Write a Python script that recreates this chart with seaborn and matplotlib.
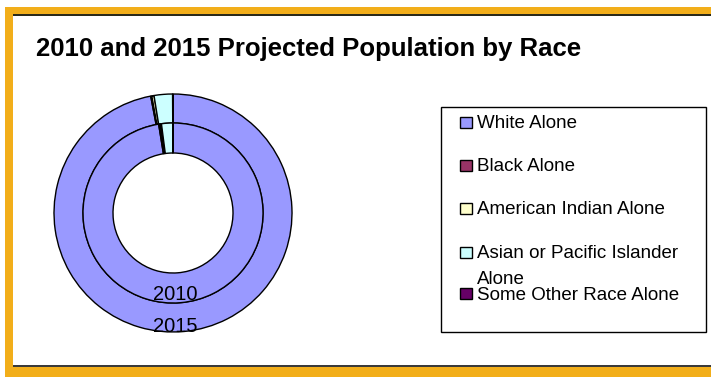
import matplotlib
matplotlib.use("Agg")
import matplotlib.pyplot as plt
from matplotlib.patches import Rectangle
import seaborn as sns

sns.set_theme(style="white")
plt.rcParams["font.family"] = ["Liberation Sans", "DejaVu Sans"]
plt.rcParams["text.color"] = "black"

# Population share by race (percent)
races = ["White Alone", "Black Alone", "American Indian Alone",
         "Asian or Pacific Islander\nAlone", "Some Other Race Alone"]
share_2010 = [97.45, 0.25, 0.25, 2.0, 0.05]
share_2015 = [97.0, 0.15, 0.3, 2.5, 0.05]
years = ["2010", "2015"]
colors = ["#9999FF", "#993366", "#FFFFCC", "#CCFFFF", "#660066"]

W, H = 711, 377
fig = plt.figure(figsize=(W / 100, H / 100), dpi=100)
fig.patch.set_facecolor("white")

def px_rect(x0, y0, x1, y1, color):
    fig.add_artist(Rectangle((x0 / W, 1 - y1 / H), (x1 - x0) / W, (y1 - y0) / H,
                             transform=fig.transFigure, facecolor=color,
                             edgecolor="none", zorder=0))

orange = "#F2AE1A"
# frame
px_rect(5, 7, W, 14, orange)
px_rect(5, 7, 13, H, orange)
px_rect(5, 367, W, H, orange)
px_rect(13, 14, W, 16, "#2a2a1a")
px_rect(13, 365, W, 367, "#3a3a3a")

fig.text(36 / W, 1 - 56 / H, "2010 and 2015 Projected Population by Race",
         fontsize=18.5, fontweight="bold", ha="left", va="baseline", color="black")

# doughnut axes centred at (173, 213) px
cx, cy, R = 173, 213, 120
ax = fig.add_axes([(cx - R) / W, 1 - (cy + R) / H, 2 * R / W, 2 * R / H])
ax.set_aspect("equal")
ax.axis("off")

r_out, r_mid, r_in = 119 / R, 90 / R, 60 / R
wp = dict(edgecolor="black", linewidth=1.0)
ax.pie(share_2015, colors=colors, radius=r_out, startangle=90, counterclock=False,
       wedgeprops=dict(width=r_out - r_mid, **wp))
ax.pie(share_2010, colors=colors, radius=r_mid, startangle=90, counterclock=False,
       wedgeprops=dict(width=r_mid - r_in, **wp))
ax.set_xlim(-1, 1)
ax.set_ylim(-1, 1)

fig.text(175 / W, 1 - 295 / H, years[0], fontsize=14.5, ha="center", va="center",
         color="black")
fig.text(175 / W, 1 - 327 / H, years[1], fontsize=14.5, ha="center", va="center",
         color="black")

# legend box
lx0, ly0, lx1, ly1 = 441, 107, 706, 332
fig.add_artist(Rectangle((lx0 / W, 1 - ly1 / H), (lx1 - lx0) / W, (ly1 - ly0) / H,
                         transform=fig.transFigure, facecolor="white",
                         edgecolor="black", linewidth=1.0, zorder=2))
ys = [122, 165, 208, 252, 293]
line_gap = 25
for name, col, y in zip(races, colors, ys):
    fig.add_artist(Rectangle((460 / W, 1 - (y + 5.5) / H), 12 / W, 11 / H,
                             transform=fig.transFigure, facecolor=col,
                             edgecolor="black", linewidth=1.0, zorder=3))
    extra = line_gap * name.count("\n")
    fig.text(477 / W, 1 - (y + 6.5 + extra) / H, name, fontsize=13.5, ha="left",
             va="baseline", linespacing=1.65, zorder=4, color="black")

fig.savefig("out.png", dpi=100, facecolor="white")
